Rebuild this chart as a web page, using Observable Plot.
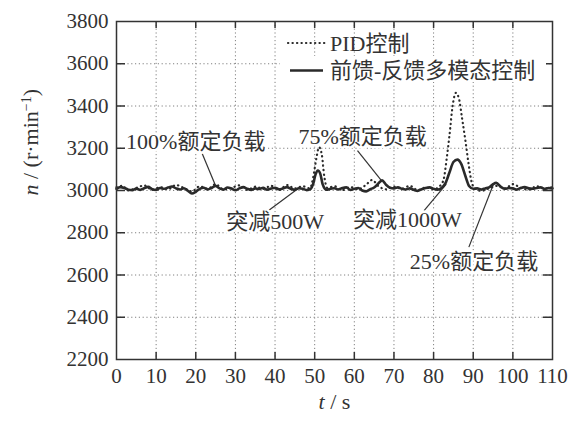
<!DOCTYPE html>
<html><head><meta charset="utf-8">
<script src="https://cdn.jsdelivr.net/npm/d3@7"></script>
<script src="https://cdn.jsdelivr.net/npm/@observablehq/plot@0.6"></script>
<style>
body{margin:0;background:#fff;}
#wrap{position:relative;width:582px;height:423px;}
</style></head><body><div id="wrap"></div>
<script>
// ---- data ----
const xTicks = [0,10,20,30,40,50,60,70,80,90,100,110];
const yTicks = [2200,2400,2600,2800,3000,3200,3400,3600,3800];

// 前馈-反馈多模态控制 (solid)
const tSolid = [0,1,2,3,4,5,6,7,8,9,10,11,12,13,14,15,16,17,18,19,20,21,22,23,24,25,26,27,28,29,30,31,32,33,34,35,36,37,38,39,40,41,42,43,44,45,46,47,48,49,49.6,50.2,50.8,51.4,52,52.6,53,54,55,56,57,58,59,60,61,62,63,64,65,66,67,68,69,70,71,72,73,74,75,76,77,78,79,80,81,82,83,84,85,86,87,88,89,90,91,92,93,94,95,95.8,97,98,99,100,101,102,103,104,105,106,107,108,109,110];
const nSolid = [3008,3016,3012,3004,3002,3009,3003,3011,3017,3006,3003,3012,3008,3014,3019,3010,3005,3011,2999,2986,2994,3008,3013,3005,3012,3022,3010,3004,3014,3009,3001,3010,3016,3008,3003,3010,3007,3013,3004,3009,3013,3006,3010,3016,3008,3003,3011,3008,3002,3008,3030,3075,3095,3080,3030,3008,3004,3008,3011,3005,3012,3015,3003,3008,3012,3000,2996,3006,3014,3032,3048,3027,3013,3010,3015,3008,3005,3010,3003,2998,3006,3012,3015,3008,3004,3012,3035,3085,3135,3146,3125,3070,3020,3008,3010,3005,3010,3015,3030,3036,3017,3008,3012,3010,3004,3012,3016,3010,3008,3012,3015,3008,3012,3010];

// PID控制 (dotted)
const tPID = [0,1.5,3,5,7,9,11,13,15,17,19,21,23,25,27,29,31,33,35,37,39,41,43,45,47,48.8,49.6,50.4,51.1,51.8,52.4,53.2,55,57,59,61,63,64.5,66,68,70,72,74,76,78,80,81.5,82.5,83.3,84,84.8,85.6,86.4,87.2,88,88.8,89.6,90.5,92,94,96,98,100,102,104,106,108,110];
const nPID = [3015,3022,3000,3012,3024,3003,3016,3006,3026,3012,2996,3020,3008,3030,3006,3012,3024,3003,3018,3008,3022,3002,3026,3010,3020,3010,3060,3150,3205,3170,3070,3012,3020,3002,3016,3006,3028,3050,3022,3006,3018,3008,3022,3002,3014,3006,3020,3050,3150,3260,3400,3462,3435,3340,3240,3130,3040,3008,2998,3010,3022,3010,3030,3012,3004,3020,3010,3016];

const seriesNames = ["PID控制", "前馈-反馈多模态控制"];

// annotations: label text, label centre (t, n), leader line start/end (t, n)
const annoText = ["100%额定负载", "75%额定负载", "突减500W", "突减1000W", "25%额定负载"];
const annoT    = [20.0, 62.1, 40.0, 73.4, 90.2];
const annoN    = [3228, 3252, 2850, 2862, 2661];
const leadT1   = [21.3, 60.8, 37.7, 77.6, 88.9];
const leadN1   = [3189, 3189, 2896, 2905, 2732];
const leadT2   = [25.0, 66.8, 46.0, 83.2, 95.2];
const leadN2   = [3022, 3048, 3012, 3030, 3034];

// ---- build tables ----
const solid = tSolid.map((t, i) => ({t, n: nSolid[i]}));
const pid = tPID.map((t, i) => ({t, n: nPID[i]}));
const annos = annoText.map((s, i) => ({s, t: annoT[i], n: annoN[i], t1: leadT1[i], n1: leadN1[i], t2: leadT2[i], n2: leadN2[i]}));

const W = 582, H = 423, mL = 116, mR = 30, mT = 21, mB = 64;
const innerW = W - mL - mR, innerH = H - mT - mB;
const FONT = "'Liberation Serif','Noto Sans CJK SC',serif";
const ink = "#2a2a2a";
const gridStyle = {stroke: "#808080", strokeOpacity: 1, strokeWidth: 1, strokeDasharray: "1.2,2.6"};
const innerX = xTicks.slice(1, -1), innerY = yTicks.slice(1, -1);

const chart = Plot.plot({
  width: W, height: H,
  marginLeft: mL, marginRight: mR, marginTop: mT, marginBottom: mB,
  x: {domain: [0, 110]},
  y: {domain: [2200, 3800]},
  style: {fontFamily: FONT, fontSize: "21px", color: "#333", background: "#fff"},
  marks: [
    Plot.gridX(innerX, gridStyle),
    Plot.gridY(innerY, gridStyle),
    Plot.tickX(innerX, {x: d => d, insetTop: innerH - 7, stroke: "#333", strokeWidth: 1.5}),
    Plot.tickX(innerX, {x: d => d, insetBottom: innerH - 7, stroke: "#333", strokeWidth: 1.5}),
    Plot.tickY(innerY, {y: d => d, insetRight: innerW - 9, stroke: "#333", strokeWidth: 1.5}),
    Plot.tickY(innerY, {y: d => d, insetLeft: innerW - 9, stroke: "#333", strokeWidth: 1.5}),
    Plot.axisX({ticks: xTicks, tickSize: 0, tickPadding: 9, tickFormat: d => String(d), label: null, fill: "#333"}),
    Plot.axisY({ticks: yTicks, tickSize: 0, tickPadding: 8, tickFormat: d => String(d), label: null, fill: "#333"}),
    Plot.link(annos, {x1: "t1", y1: "n1", x2: "t2", y2: "n2", stroke: "#333", strokeWidth: 1.2}),
    Plot.text(annos, {x: "t", y: "n", text: "s", fontSize: 22, fill: "#333", stroke: "#fff", strokeWidth: 5}),
    Plot.line(pid, {x: "t", y: "n", stroke: ink, strokeWidth: 2.2, strokeDasharray: "0.3,4.2", strokeLinecap: "round", curve: "monotone-x"}),
    Plot.line(solid, {x: "t", y: "n", stroke: ink, strokeWidth: 2.6, curve: "monotone-x"}),
    Plot.frame({stroke: "#333", strokeWidth: 1.5}),
    Plot.text(["t / s"], {frameAnchor: "bottom", dy: 49, fontSize: 22, fill: "#333"}),
    Plot.text(["n / (r·min-1)"], {frameAnchor: "left", dx: -86, dy: 5, rotate: -90, fontSize: 22, fill: "#333"})
  ]
});
document.getElementById("wrap").appendChild(chart);

// italic variables and superscript in axis titles
const svg = d3.select(chart);
svg.selectAll("text").filter(function() { return this.textContent === "t / s"; })
  .each(function() {
    const el = d3.select(this).text(null);
    el.append("tspan").attr("font-style", "italic").text("t");
    el.append("tspan").text(" / s");
  });
svg.selectAll("text").filter(function() { return this.textContent === "n / (r·min-1)"; })
  .each(function() {
    const el = d3.select(this).text(null);
    el.append("tspan").attr("font-style", "italic").text("n");
    el.append("tspan").text(" / (r·min");
    el.append("tspan").attr("font-size", 14).attr("dy", "-0.5em").text("−1");
    el.append("tspan").attr("dy", "0.35em").text(")");
  });

// legend (upper right, inside the frame)
const lg = svg.append("g").attr("font-family", FONT).attr("font-size", 22).attr("fill", "#333").attr("text-anchor", "start");
lg.append("rect").attr("x", 280).attr("y", 56).attr("width", 266).attr("height", 26).attr("fill", "#fff");
lg.append("line").attr("x1", 288).attr("x2", 326).attr("y1", 43).attr("y2", 43)
  .attr("stroke", ink).attr("stroke-width", 2.2).attr("stroke-dasharray", "0.3,4.2").attr("stroke-linecap", "round");
lg.append("line").attr("x1", 290).attr("x2", 323).attr("y1", 70.5).attr("y2", 70.5)
  .attr("stroke", ink).attr("stroke-width", 2.6);
lg.selectAll("text.lab").data(seriesNames).join("text")
  .attr("text-anchor", "start")
  .attr("x", 330).attr("y", (d, i) => i === 0 ? 43 : 70.5).attr("dy", "0.36em").text(d => d);
</script></body></html>
